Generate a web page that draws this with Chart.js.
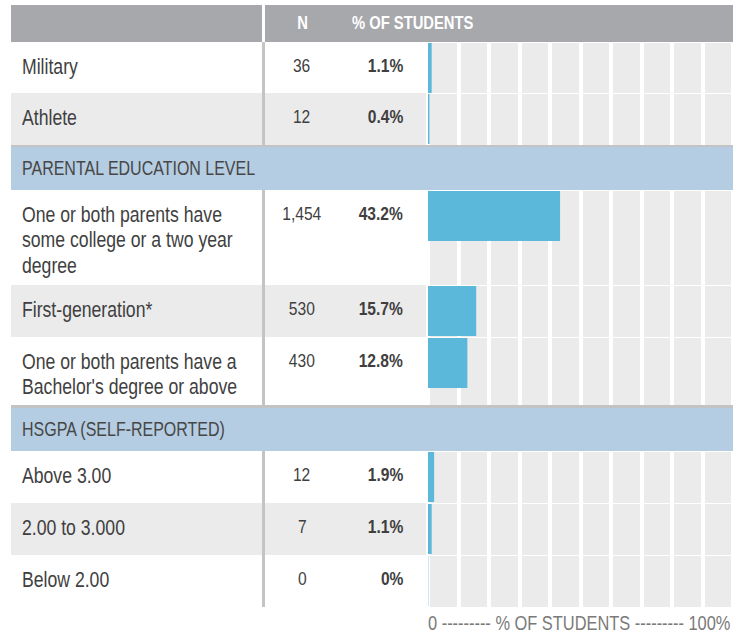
<!DOCTYPE html>
<html>
<head>
<meta charset="utf-8">
<script src="https://cdn.jsdelivr.net/npm/chart.js@4/dist/chart.umd.min.js"></script>
<style>
  body { margin: 0; background: #fff; width: 740px; height: 635px; position: relative; overflow: hidden;
         font-family: "Liberation Sans", Arial, sans-serif; color: #3f3f3f; }
  .abs { position: absolute; }
  /* narrow look: plain sans squeezed horizontally */
  .n { display: inline-block; transform: scaleX(0.82); transform-origin: left center; white-space: nowrap; }
  .nc { transform-origin: center center; }
  .nr { transform-origin: right center; }
  .head { left: 11px; top: 5px; width: 722px; height: 37px; background: #a7a8ac; }
  .head .h { position: absolute; top: 0; line-height: 37px; color: #fff; font-weight: bold; font-size: 18px; }
  .stripe { left: 11px; width: 417px; }
  .gray { background: #ebebeb; }
  .cell { position: absolute; top: 11px; line-height: 25.5px; white-space: nowrap; }
  .lbl { left: 11px; top: 12.5px; font-size: 21.5px; }
  .num { left: 251px; width: 80px; text-align: center; font-size: 19px; }
  .pct { left: 292px; width: 100px; text-align: right; font-size: 19px; font-weight: bold; }
  .vline { left: 262px; width: 3px; background: #c4c4c4; }
  .sep { left: 11px; width: 722px; background: #c3c3c3; z-index: 2; }
  .section { left: 11px; width: 722px; background: #b5cde2; z-index: 2; font-size: 19.5px; color: #474747; }
  .section .h { position: absolute; left: 11px; top: 0; }
  canvas.row { position: absolute; left: 420px; }
  .axis { left: 428px; top: 610px; line-height: 26px; font-size: 20px; color: #7a7a7a; white-space: nowrap; }
</style>
</head>
<body>
<script>
// categories (label lines), counts and shares of students
const categories = [
  ['Military'],
  ['Athlete'],
  ['One or both parents have', 'some college or a two year', 'degree'],
  ['First-generation*'],
  ['One or both parents have a', "Bachelor's degree or above"],
  ['Above 3.00'],
  ['2.00 to 3.000'],
  ['Below 2.00']
];
const counts = [36, 12, 1454, 530, 430, 12, 7, 0];
const percents = [1.1, 0.4, 43.2, 15.7, 12.8, 1.9, 1.1, 0];
const sectionTitles = ['PARENTAL EDUCATION LEVEL', 'HSGPA (SELF-REPORTED)'];
const sectionStarts = [2, 5];
const columnHeaders = ['N', '% OF STUDENTS'];
const xTicks = [0, 10, 20, 30, 40, 50, 60, 70, 80, 90, 100];
const axisTitle = '0 --------- % OF STUDENTS --------- 100%';

// layout only
const rowHeights = [51, 52, 95, 52, 68, 52, 52, 52];
const sepHeights = [2, 3];
const sectionHeight = 43;
const barColor = '#5bb8da';

function el(tag, cls, css, html) {
  const d = document.createElement(tag);
  if (cls) d.className = cls;
  Object.assign(d.style, css || {});
  if (html !== undefined) d.innerHTML = html;
  document.body.appendChild(d);
  return d;
}
const narrow = (txt, extra) => '<span class="n ' + (extra || '') + '">' + txt + '</span>';

// header bar
const head = el('div', 'abs head');
head.innerHTML = '<div class="h" style="left:251px;width:80px;text-align:center">' + narrow(columnHeaders[0], 'nc') + '</div>' +
                 '<div class="h" style="left:341px">' + narrow(columnHeaders[1]) + '</div>' +
                 '<i style="position:absolute;left:251px;top:0;width:3px;height:37px;background:#fff"></i>';

// draws the grey % columns with white gaps at every tick, over the whole row height
const columnsPlugin = {
  id: 'columns',
  beforeDatasetsDraw(chart) {
    const x = chart.scales.x, c = chart.ctx, h = chart.height;
    const x0 = x.getPixelForValue(xTicks[0]), x1 = x.getPixelForValue(xTicks[xTicks.length - 1]);
    c.save();
    c.fillStyle = '#ebebeb';
    c.fillRect(x0, 1, x1 - x0, h - 1);
    c.fillStyle = '#ffffff';
    xTicks.forEach(v => c.fillRect(Math.round(x.getPixelForValue(v)) - 2, 0, 4, h));
    c.restore();
  }
};

let y = 42;
let stripeIdx = 0;
categories.forEach((lines, i) => {
  const s = sectionStarts.indexOf(i);
  if (s >= 0) {
    el('div', 'abs sep', { top: y + 'px', height: sepHeights[s] + 'px' });
    y += sepHeights[s];
    el('div', 'abs section', { top: y + 'px', height: sectionHeight + 'px' },
       '<div class="h" style="line-height:' + sectionHeight + 'px">' + narrow(sectionTitles[s]) + '</div>');
    y += sectionHeight;
    stripeIdx = 0;
  }
  const h = rowHeights[i];
  const row = el('div', 'abs stripe' + (stripeIdx % 2 ? ' gray' : ''), { top: y + 'px', height: h + 'px' });
  row.innerHTML =
    '<div class="cell lbl">' + lines.map(l => narrow(l)).join('<br>') + '</div>' +
    '<div class="cell num">' + narrow(counts[i].toLocaleString('en-US'), 'nc') + '</div>' +
    '<div class="cell pct">' + narrow(percents[i] + '%', 'nr') + '</div>';
  el('div', 'abs vline', { top: y + 'px', height: h + 'px' });

  const cv = el('canvas', 'row', { top: y + 'px' });
  cv.width = 320; cv.height = h;
  new Chart(cv.getContext('2d'), {
    type: 'bar',
    data: {
      labels: [lines.join(' ')],
      datasets: [{ data: [percents[i]], backgroundColor: barColor, borderWidth: 0,
                   barPercentage: 1, categoryPercentage: 1 }]
    },
    options: {
      indexAxis: 'y',
      responsive: false,
      animation: false,
      layout: { padding: { left: 8, right: 7, top: 1, bottom: h - 51 } },
      scales: {
        x: { display: false, min: xTicks[0], max: xTicks[xTicks.length - 1] },
        y: { display: false }
      },
      plugins: { legend: { display: false }, tooltip: { enabled: false } }
    },
    plugins: [columnsPlugin]
  });
  y += h;
  stripeIdx++;
});

el('div', 'abs axis', {}, narrow(axisTitle));
</script>
</body>
</html>
